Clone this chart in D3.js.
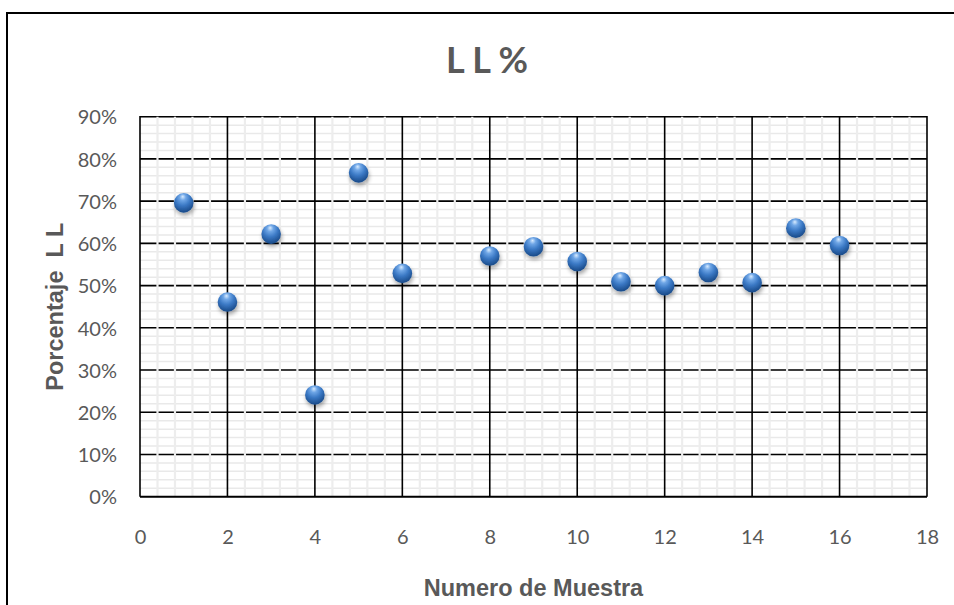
<!DOCTYPE html>
<html><head><meta charset="utf-8">
<script src="https://cdn.jsdelivr.net/npm/d3@7"></script>
<style>html,body{margin:0;padding:0;background:#fff;}svg{display:block;}</style>
</head><body>
<script>
const sampleNumbers = [1, 2, 3, 4, 5, 6, 8, 9, 10, 11, 12, 13, 14, 15, 16];
const llPercent = [69.6, 46.1, 62.2, 24.1, 76.7, 52.9, 57.0, 59.2, 55.7, 50.9, 50.0, 53.1, 50.7, 63.6, 59.5];
const xTicks = [0, 2, 4, 6, 8, 10, 12, 14, 16, 18];
const yTicks = [0, 10, 20, 30, 40, 50, 60, 70, 80, 90];
const chartTitle = "L L %";
const xTitle = "Numero de Muestra";
const yTitle = "Porcentaje  L L";

(function () {
const W = 954, H = 605;
const svg = d3.select("body").append("svg").attr("width", W).attr("height", H);

const pL = 140, pR = 927, pT = 116.7, pB = 496.7;
const x = d3.scaleLinear().domain([0, 18]).range([pL, pR]);
const y = d3.scaleLinear().domain([0, 90]).range([pB, pT]);

svg.append("rect").attr("x", 7).attr("y", 13).attr("width", W + 20).attr("height", H + 20)
  .attr("fill", "#fff").attr("stroke", "#000").attr("stroke-width", 2);

const defs = svg.append("defs");
const grad = defs.append("radialGradient").attr("id", "sphere")
  .attr("cx", "45%").attr("cy", "30%").attr("r", "65%").attr("fx", "45%").attr("fy", "18%");
grad.append("stop").attr("offset", "0%").attr("stop-color", "#d8ebff");
grad.append("stop").attr("offset", "25%").attr("stop-color", "#6fa6e6");
grad.append("stop").attr("offset", "60%").attr("stop-color", "#3a78c4");
grad.append("stop").attr("offset", "100%").attr("stop-color", "#1d4f8f");
const f = defs.append("filter").attr("id", "shadow").attr("x", "-50%").attr("y", "-50%").attr("width", "200%").attr("height", "200%");
f.append("feGaussianBlur").attr("in", "SourceAlpha").attr("stdDeviation", 2);
f.append("feOffset").attr("dx", 1).attr("dy", 3).attr("result", "ob");
f.append("feComponentTransfer").append("feFuncA").attr("type", "linear").attr("slope", 0.35);
const m = f.append("feMerge"); m.append("feMergeNode"); m.append("feMergeNode").attr("in", "SourceGraphic");

const g = svg.append("g");
const yMinor = d3.range(0, 90.01, 2);
g.selectAll(".hmin").data(yMinor).join("line")
  .attr("x1", pL).attr("x2", pR).attr("y1", d => y(d)).attr("y2", d => y(d))
  .attr("stroke", "#e9e9e9").attr("stroke-width", 1.5);
g.selectAll(".hmaj").data(yTicks.filter(d => d > 0)).join("line")
  .attr("x1", pL).attr("x2", pR).attr("y1", d => y(d)).attr("y2", d => y(d))
  .attr("stroke", "#000").attr("stroke-width", 1.6);
const xMinor = d3.range(0, 18.001, 0.4).filter(d => Math.abs(d / 2 - Math.round(d / 2)) > 1e-6);
g.selectAll(".vmin").data(xMinor).join("line")
  .attr("x1", d => x(d)).attr("x2", d => x(d)).attr("y1", pT).attr("y2", pB)
  .attr("stroke", "#ededed").attr("stroke-width", 2.2);
g.selectAll(".vmaj").data(xTicks).join("line")
  .attr("x1", d => x(d)).attr("x2", d => x(d)).attr("y1", pT - 0.8).attr("y2", pB)
  .attr("stroke", "#000").attr("stroke-width", 1.6);
g.append("line").attr("x1", pL).attr("x2", pR).attr("y1", pB).attr("y2", pB)
  .attr("stroke", "#000").attr("stroke-width", 2);

const xAxis = d3.axisBottom(x).tickValues(xTicks).tickSize(0).tickPadding(0).tickFormat(d3.format("d"));
const xa = svg.append("g").attr("transform", `translate(0,${pB})`).call(xAxis);
xa.select(".domain").remove();
xa.selectAll("text").attr("font-family", "Lato, 'Open Sans', sans-serif").attr("font-size", 20)
  .attr("fill", "#595959").attr("dy", null).attr("y", 47);

const yAxis = d3.axisLeft(y).tickValues(yTicks).tickSize(0).tickPadding(0).tickFormat(d => d + "%");
const ya = svg.append("g").attr("transform", `translate(${pL - 23},0)`).call(yAxis);
ya.select(".domain").remove();
ya.selectAll("text").attr("font-family", "Lato, 'Open Sans', sans-serif").attr("font-size", 20)
  .attr("fill", "#595959").attr("dy", "0.36em").attr("x", 0);

svg.append("g").selectAll("circle").data(sampleNumbers.map((s, i) => [s, llPercent[i]])).join("circle")
  .attr("cx", d => x(d[0])).attr("cy", d => y(d[1])).attr("r", 9.8)
  .attr("fill", "url(#sphere)").attr("filter", "url(#shadow)");

svg.append("text").attr("x", 487).attr("y", 72.5).attr("text-anchor", "middle")
  .attr("font-family", "Lato, sans-serif").attr("font-weight", "bold").attr("font-size", 36)
  .attr("fill", "#595959").text(chartTitle);
svg.append("text").attr("x", (pL + pR) / 2).attr("y", 596).attr("text-anchor", "middle")
  .attr("font-family", "'Liberation Sans', Arial, sans-serif").attr("font-weight", "bold").attr("font-size", 23.5)
  .attr("fill", "#595959").text(xTitle);
svg.append("text").attr("transform", `translate(63,${(pT + pB) / 2}) rotate(-90)`).attr("text-anchor", "middle")
  .attr("font-family", "'Liberation Sans', Arial, sans-serif").attr("font-weight", "bold").attr("font-size", 23.5)
  .attr("fill", "#595959").style("white-space", "pre").text(yTitle);
})();
</script>
</body></html>
